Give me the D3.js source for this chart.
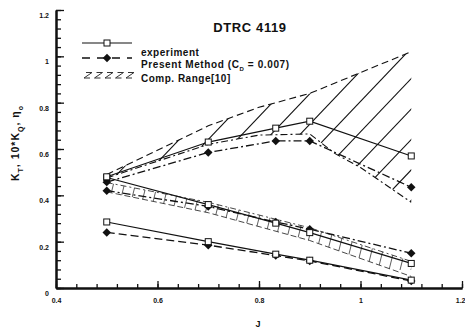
<!DOCTYPE html>
<html><head><meta charset="utf-8">
<script src="https://cdn.jsdelivr.net/npm/d3@7"></script>
<style>
html,body{margin:0;padding:0;background:#fff;}
text{font-family:"Liberation Sans",Arial,sans-serif;font-weight:bold;fill:#111;}
</style></head>
<body><svg id="c" width="465" height="328"></svg>
<script>
// ---- data ----
const jExp = [0.5, 0.7, 0.833, 0.9, 1.1];
const ktExp = [0.285, 0.200, 0.146, 0.120, 0.034];
const kq10Exp = [0.477, 0.360, 0.280, 0.239, 0.106];
const etaExp = [0.48, 0.63, 0.69, 0.72, 0.57];

const jPm = [0.5, 0.7, 0.833, 0.9, 1.1];
const ktPm = [0.24, 0.185, 0.14, 0.117, 0.03];
const kq10Pm = [0.42, 0.352, 0.285, 0.254, 0.15];
const etaPm = [0.457, 0.585, 0.635, 0.635, 0.435];

const jEtaRange = [0.5, 0.7, 0.8, 0.9, 0.95, 1.0, 1.1];
const etaRangeHi = [0.49, 0.70, 0.78, 0.84, 0.885, 0.93, 1.02];
const etaRangeLo = [0.475, 0.62, 0.66, 0.665, 0.58, 0.52, 0.37];

const jKqRange = [0.5, 0.7, 0.9, 1.1];
const kqRangeHi = [0.455, 0.37, 0.26, 0.115];
const kqRangeLo = [0.415, 0.325, 0.205, 0.05];

const xTicks = [0.4, 0.6, 0.8, 1, 1.2];
const yTicks = [0, 0.2, 0.4, 0.6, 0.8, 1, 1.2];
const xMinor = d3.range(0, 21).map(i => +(0.4 + i * 0.04).toFixed(2));
const yMinor = d3.range(0, 31).map(i => +(i * 0.04).toFixed(2));

const title = "DTRC 4119";
const legendLabels = ["experiment", "Present Method (C", "Comp. Range[10]"];

// ---- scales ----
const svg = d3.select("#c");
const x = d3.scaleLinear().domain([0.4, 1.2]).range([56, 462]);
const y = d3.scaleLinear().domain([0, 1.2]).range([288, 10]);
const ink = "#111";

// ---- comp range regions ----
const defs = svg.append("defs");
const etaPoly = jEtaRange.map((j, i) => [x(j), y(etaRangeHi[i])])
  .concat(jEtaRange.map((j, i) => [x(j), y(etaRangeLo[i])]).reverse());
defs.append("clipPath").attr("id", "clipEta").append("path")
  .attr("d", "M" + etaPoly.join("L") + "Z");
const kqPoly = jKqRange.map((j, i) => [x(j), y(kqRangeHi[i])])
  .concat(jKqRange.map((j, i) => [x(j), y(kqRangeLo[i])]).reverse());
defs.append("clipPath").attr("id", "clipKq").append("path")
  .attr("d", "M" + kqPoly.join("L") + "Z");

const hatchEta = svg.append("g").attr("clip-path", "url(#clipEta)");
for (let k = -10; k < 30; k++) {
  const x0 = 100 + k * 29;
  hatchEta.append("line").attr("x1", x0).attr("y1", 40).attr("x2", x0 - 180).attr("y2", 40 + 180 * 1.05)
    .attr("stroke", ink).attr("stroke-width", 1.1);
}
const hatchKq = svg.append("g").attr("clip-path", "url(#clipKq)");
for (let k = -10; k < 50; k++) {
  const x0 = 100 + k * 11;
  hatchKq.append("line").attr("x1", x0).attr("y1", 150).attr("x2", x0 - 30).attr("y2", 150 + 30 * 4)
    .attr("stroke", "#333").attr("stroke-width", 0.8);
}

const line = d3.line().x(d => x(d[0])).y(d => y(d[1]));
function drawLine(js, vs, dash, w, col) {
  svg.append("path").datum(js.map((j, i) => [j, vs[i]]))
    .attr("d", line).attr("fill", "none").attr("stroke", col || ink)
    .attr("stroke-width", w || 1.2).attr("stroke-dasharray", dash || null);
}
// range edges
drawLine(jEtaRange, etaRangeHi, "7,4", 1.1);
drawLine(jEtaRange, etaRangeLo, "7,3,2,3", 1.1);
drawLine(jKqRange, kqRangeHi, "6,3,2,3", 0.9, "#333");
drawLine(jKqRange, kqRangeLo, "6,3", 0.9, "#333");

// present method
drawLine(jPm, ktPm, "8,4", 1.3);
drawLine(jPm, kq10Pm, "8,3,2,3", 1.3);
drawLine(jPm, etaPm, "8,3,2,3", 1.3);
// experiment
drawLine(jExp, ktExp, null, 1.2);
drawLine(jExp, kq10Exp, null, 1.2);
drawLine(jExp, etaExp, null, 1.2);

function diamonds(js, vs) {
  svg.append("g").selectAll("rect").data(js.map((j, i) => [j, vs[i]])).join("rect")
    .attr("x", -3).attr("y", -3).attr("width", 6).attr("height", 6)
    .attr("transform", d => `translate(${x(d[0])},${y(d[1])}) rotate(45)`)
    .attr("fill", ink);
}
function squares(js, vs) {
  svg.append("g").selectAll("rect").data(js.map((j, i) => [j, vs[i]])).join("rect")
    .attr("x", d => x(d[0]) - 3).attr("y", d => y(d[1]) - 3).attr("width", 6).attr("height", 6)
    .attr("fill", "#fff").attr("stroke", ink).attr("stroke-width", 1);
}
diamonds(jPm, ktPm); diamonds(jPm, kq10Pm); diamonds(jPm, etaPm);
squares(jExp, ktExp); squares(jExp, kq10Exp); squares(jExp, etaExp);

// ---- axes ----
svg.append("g").attr("transform", `translate(0,${y(0)})`)
  .call(d3.axisBottom(x).tickValues(xMinor).tickSize(-4).tickSizeOuter(0).tickFormat(""));
const xMaj = svg.append("g").attr("transform", `translate(0,${y(0)})`)
  .call(d3.axisBottom(x).tickValues(xTicks).tickSize(-7).tickSizeOuter(0).tickPadding(10).tickFormat(d => String(d)));
svg.append("g").attr("transform", `translate(${x(0.4)},0)`)
  .call(d3.axisLeft(y).tickValues(yMinor).tickSize(-5).tickSizeOuter(0).tickFormat(""));
const yMaj = svg.append("g").attr("transform", `translate(${x(0.4)},0)`)
  .call(d3.axisLeft(y).tickValues(yTicks).tickSize(-8).tickSizeOuter(0).tickPadding(7).tickFormat(d => String(d)));
svg.selectAll(".domain").attr("stroke", ink).attr("stroke-width", 2);
svg.selectAll(".tick line").attr("stroke", ink).attr("stroke-width", 1.3);
svg.selectAll(".tick text").style("font-family", "Liberation Sans, Arial, sans-serif")
  .style("font-weight", "bold").style("font-size", "7px").attr("fill", ink);
yMaj.selectAll(".tick text").attr("dy", "7.5px");
// keep the last x label inside the picture, as in the reference
xMaj.selectAll(".tick text").filter(d => d === 1.2).attr("text-anchor", "end").attr("x", 3);

// ---- texts ----
svg.append("text").attr("x", 250).attr("y", 32).attr("text-anchor", "middle")
  .style("font-size", "13px").style("letter-spacing", "0.6px").text(title);
svg.append("text").attr("x", 258).attr("y", 327).attr("text-anchor", "middle")
  .style("font-size", "9px").text("J");
const yl = svg.append("text").attr("transform", "translate(19,143) rotate(-90)")
  .attr("text-anchor", "middle").style("font-size", "10.5px").style("letter-spacing", "1px");
yl.append("tspan").text("K");
yl.append("tspan").attr("baseline-shift", "sub").style("font-size", "7px").text("T");
yl.append("tspan").text(", 10*K");
yl.append("tspan").attr("baseline-shift", "sub").style("font-size", "7px").text("Q");
yl.append("tspan").text(", η");
yl.append("tspan").attr("baseline-shift", "sub").style("font-size", "7px").text("o");

// ---- legend ----
const lg = svg.append("g");
const lx1 = 82, lx2 = 132;
lg.append("line").attr("x1", lx1).attr("x2", lx2).attr("y1", 43).attr("y2", 43).attr("stroke", ink).attr("stroke-width", 1.2);
lg.append("rect").attr("x", 104).attr("y", 40).attr("width", 6).attr("height", 6).attr("fill", "#fff").attr("stroke", ink);
lg.append("line").attr("x1", lx1).attr("x2", lx2).attr("y1", 58).attr("y2", 58).attr("stroke", ink).attr("stroke-width", 1.3).attr("stroke-dasharray", "8,7");
lg.append("rect").attr("x", -3).attr("y", -3).attr("width", 6).attr("height", 6)
  .attr("transform", "translate(107,58) rotate(45)").attr("fill", ink);
const zs = lg.append("g").attr("stroke", "#333").attr("stroke-width", 1).attr("fill", "none");
for (let k = 0; k < 5; k++) {
  const zx = 83 + k * 10.5;
  zs.append("path").attr("d", `M${zx + 3},72.5 H${zx + 9} L${zx + 1},78 H${zx + 7}`);
}
lg.append("text").attr("x", 141).attr("y", 55.5).style("font-size", "10px").style("letter-spacing", "0.5px").text(legendLabels[0]);
const t2 = lg.append("text").attr("x", 141).attr("y", 67.5).style("font-size", "10px").style("letter-spacing", "0.6px");
t2.append("tspan").text(legendLabels[1]);
t2.append("tspan").attr("baseline-shift", "sub").style("font-size", "6px").text("D");
t2.append("tspan").attr("baseline-shift", "0").text(" = 0.007)");
lg.append("text").attr("x", 141).attr("y", 82).style("font-size", "10px").style("letter-spacing", "0.5px").text(legendLabels[2]);
</script></body></html>
